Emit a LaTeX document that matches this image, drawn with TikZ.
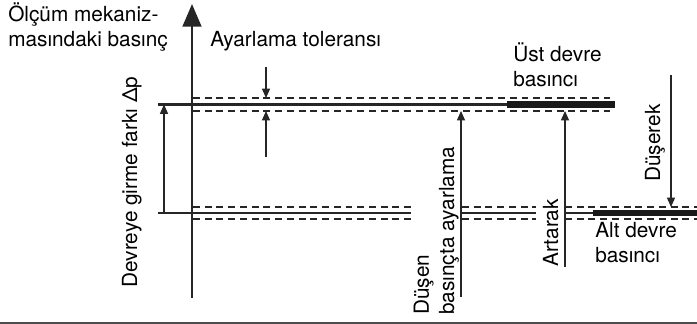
\documentclass[tikz,border=0pt]{standalone}
\usepackage{fontspec}
\setmainfont{TeX Gyre Heros}
\usetikzlibrary{arrows.meta}
\begin{document}
\begin{tikzpicture}[x=0.75pt,y=-0.75pt,
    lbl/.style={font=\fontsize{15.6}{18.8}\selectfont,inner sep=0pt,align=left},
    lvl/.style={line width=1.8pt,black!85},
    tol/.style={line width=1.1pt,black!85,dash pattern=on 5.2pt off 3.6pt},
    thk/.style={line width=5pt,black!90},
    arr/.style={line width=0.9pt,black!85,-{Triangle[length=7pt,width=6pt]}}]
  \useasboundingbox (0,0) rectangle (697,324);
  \draw
    (8,47) node[lbl,anchor=base west] (y){Ölçüm mekaniz-\\masındaki basınç}
    (210,47) node[lbl,anchor=base west] (t){Ayarlama toleransı}
    (513,87) node[lbl,anchor=base west] (u){Üst devre\\basıncı}
    (595,263) node[lbl,anchor=base west] (a){Alt devre\\basıncı}
    (137,182) node[lbl,anchor=base,rotate=90] (d){Devreye girme farkı Δp}
    (454,315) node[lbl,anchor=base west,rotate=90] (s){Düşen\\basınçta ayarlama}
    (558,267) node[lbl,anchor=base west,rotate=90] (r){Artarak}
    (660,182) node[lbl,anchor=base west,rotate=90] (f){Düşerek};
  \coordinate (o) at (192,298);
  \coordinate (top) at (192,4);
  \coordinate (h1) at (158,104.5);
  \coordinate (h2) at (615,104.5);
  \coordinate (k1) at (507,104.5);
  \coordinate (l1) at (158,213);
  \coordinate (l2) at (411,213);
  \coordinate (l3) at (462,213);
  \coordinate (l4) at (536,213);
  \coordinate (l5) at (565,213);
  \coordinate (l6) at (697,213);
  \coordinate (k2) at (593,213);
  \coordinate (b1) at (0,323);
  \coordinate (b2) at (697,323);
  \begin{scope}[tol]
    \draw (193,98) -- (610,98);
    \draw (193,111) -- (610,111);
    \draw (193,207) -- (l2|-0,207);
    \draw (193,219) -- (l2|-0,219);
    \draw (l3|-0,207) -- (l4|-0,207);
    \draw (l3|-0,219) -- (l4|-0,219);
    \draw (l5|-0,207) -- (l6|-0,207);
    \draw (l5|-0,219) -- (l6|-0,219);
  \end{scope}
  \begin{scope}[lvl]
    \draw (h1) -- (h2);
    \draw (l1) -- (l2);
    \draw (l3) -- (l4);
    \draw (l5) -- (l6);
  \end{scope}
  \draw[thk] (k1) -- (h2);
  \draw[thk] (k2) -- (l6);
  \draw[line width=1.9pt,black!85,-{Triangle[length=17pt,width=14pt]}] (o) -- (top);
  \draw[line width=1.6pt,black!70] (b1) -- (b2);
  \begin{scope}[arr]
    \draw (266,67) -- (266,98);
    \draw (266,157) -- (266,111);
    \draw[{Triangle[length=7pt,width=6pt]}-] (164,104.5) -- (164,213);
    \draw (461,297) -- (461,111);
    \draw (565,267) -- (565,111);
    \draw (671,75) -- (671,207);
  \end{scope}
\end{tikzpicture}
\end{document}
